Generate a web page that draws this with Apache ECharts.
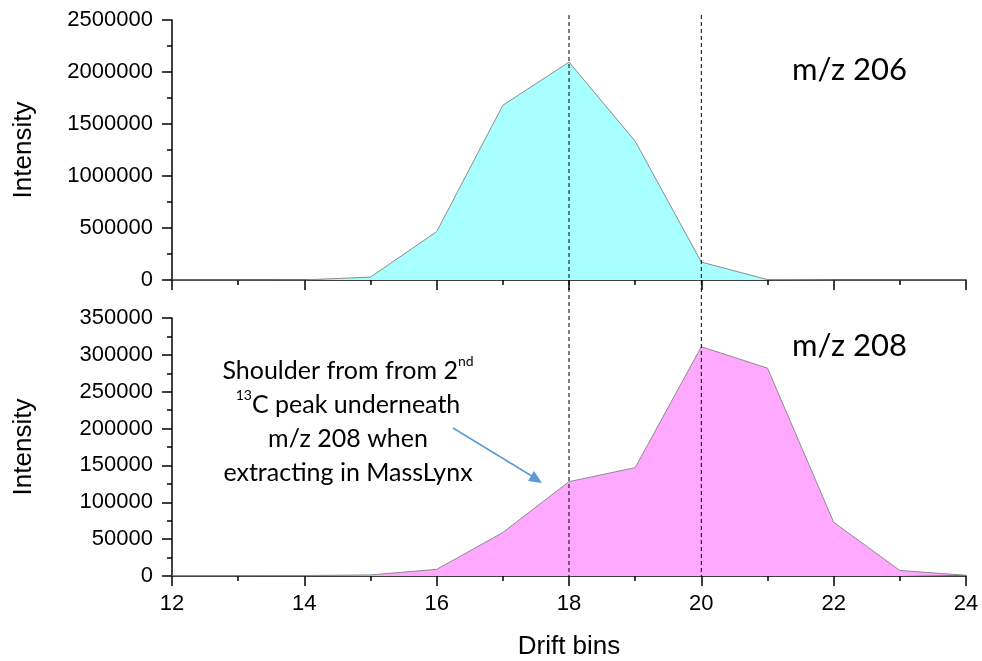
<!DOCTYPE html>
<html>
<head>
<meta charset="utf-8">
<script src="https://cdn.jsdelivr.net/npm/echarts@6/dist/echarts.min.js"></script>
<style>
  html, body { margin: 0; padding: 0; background: #fff; }
  #main { width: 982px; height: 661px; }
</style>
</head>
<body>
<div id="main"></div>
<script>
// drift bins (x) and the two extracted intensities
var driftBins = [12, 13, 14, 15, 16, 17, 18, 19, 20, 21, 22, 23, 24];
var mz206 = [0, 0, 1000, 28000, 465000, 1680000, 2095000, 1335000, 172000, 4000, 0, 0, 0];
var mz208 = [500, 500, 600, 1500, 9000, 59000, 128000, 147000, 311000, 282000, 73000, 7500, 1000];
var markBins = [18, 20];

var chart = echarts.init(document.getElementById('main'));

function pairs(xs, ys) {
    var out = [];
    for (var i = 0; i < xs.length; i++) {
        out.push([xs[i], ys[i]]);
    }
    return out;
}

var axisFont = 'Liberation Sans';
var lineStyle = {color: '#000', width: 1.5};

function xAxisOf(gridIndex, withLabels) {
    return {
        type: 'value',
        gridIndex: gridIndex,
        min: 12, max: 24, interval: 2,
        splitLine: {show: false},
        axisLine: {lineStyle: lineStyle},
        axisTick: {show: true, length: 10, lineStyle: lineStyle},
        minorTick: {show: true, splitNumber: 2, length: 5, lineStyle: lineStyle},
        axisLabel: {show: withLabels, color: '#000', fontFamily: axisFont, fontSize: 22, margin: 17},
        name: withLabels ? 'Drift bins' : '',
        nameLocation: 'middle',
        nameGap: 58,
        nameTextStyle: {color: '#000', fontFamily: axisFont, fontSize: 26}
    };
}

function yAxisOf(gridIndex, max, interval) {
    return {
        type: 'value',
        gridIndex: gridIndex,
        min: 0, max: max, interval: interval,
        splitLine: {show: false},
        axisLine: {show: true, lineStyle: lineStyle},
        axisTick: {show: true, length: 10, lineStyle: lineStyle},
        minorTick: {show: true, splitNumber: 2, length: 5, lineStyle: lineStyle},
        axisLabel: {
            color: '#000', fontFamily: axisFont, fontSize: 22, margin: 19,
            formatter: function (v) { return String(v); }
        },
        name: 'Intensity',
        nameLocation: 'middle',
        nameGap: 135,
        nameTextStyle: {color: '#000', fontFamily: axisFont, fontSize: 26}
    };
}

var option = {
    backgroundColor: '#fff',
    animation: false,
    grid: [
        {left: 172, right: 16, top: 20, height: 260},
        {left: 172, right: 16, top: 318, height: 259}
    ],
    xAxis: [xAxisOf(0, false), xAxisOf(1, true)],
    yAxis: [yAxisOf(0, 2500000, 500000), yAxisOf(1, 350000, 50000)],
    series: [
        {
            type: 'line',
            xAxisIndex: 0, yAxisIndex: 0,
            data: pairs(driftBins, mz206),
            symbol: 'none',
            lineStyle: {color: '#8c8c8c', width: 1},
            areaStyle: {color: '#a8ffff', opacity: 1},
            z: 1
        },
        {
            type: 'line',
            xAxisIndex: 1, yAxisIndex: 1,
            data: pairs(driftBins, mz208),
            symbol: 'none',
            lineStyle: {color: '#8c8c8c', width: 1},
            areaStyle: {color: '#ffa8ff', opacity: 1},
            z: 1
        }
    ]
};
chart.setOption(option);

// dashed guides spanning both panels, placed through the x scale
var graphics = [];
markBins.forEach(function (b) {
    var px = chart.convertToPixel({xAxisIndex: 1}, b);
    graphics.push({
        type: 'line',
        shape: {x1: px, y1: 15, x2: px, y2: 577},
        style: {stroke: '#000', lineWidth: 1, lineDash: [4, 3]},
        z: 10
    });
});

var noteFont = 'Lato';
graphics.push({
    type: 'text', x: 792, y: 70,
    style: {text: 'm/z 206', font: '31px ' + noteFont, fill: '#000', verticalAlign: 'middle'},
    z: 20
});
graphics.push({
    type: 'text', x: 792, y: 346,
    style: {text: 'm/z 208', font: '31px ' + noteFont, fill: '#000', verticalAlign: 'middle'},
    z: 20
});
graphics.push({
    type: 'text', x: 348, y: 354,
    style: {
        text: 'Shoulder from from 2{sup|nd}\n{sup|13}C peak underneath\nm/z 208 when\nextracting in MassLynx',
        font: '25px ' + noteFont,
        fill: '#000',
        align: 'center',
        lineHeight: 34,
        rich: {
            sup: {fontSize: 14, fontFamily: noteFont, verticalAlign: 'top', lineHeight: 24}
        }
    },
    z: 20
});

// arrow pointing at the shoulder
graphics.push({
    type: 'line',
    shape: {x1: 453, y1: 428, x2: 535, y2: 478},
    style: {stroke: '#5b9bd5', lineWidth: 1.5},
    z: 20
});
graphics.push({
    type: 'polygon',
    shape: {points: [[542, 483], [528, 481], [534, 471]]},
    style: {fill: '#5b9bd5'},
    z: 20
});

chart.setOption({graphic: graphics});
</script>
</body>
</html>
